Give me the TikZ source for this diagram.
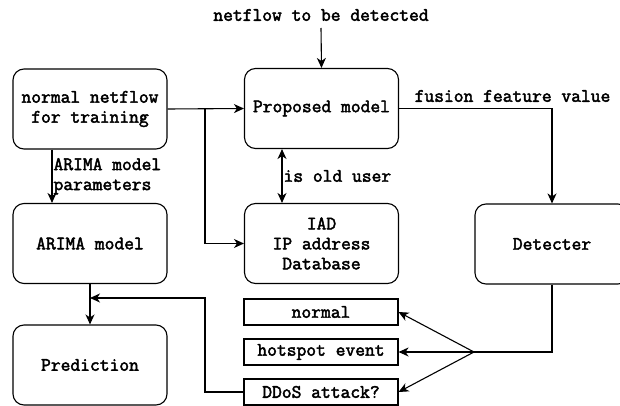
\documentclass[tikz,border=0pt]{standalone}
\usepackage{fontspec}
\setmonofont[AutoFakeBold=2.4]{Latin Modern Mono}
\usetikzlibrary{arrows.meta,positioning}
\tikzset{
  box/.style={draw, line width=1.1pt, rounded corners=11pt, minimum width=154pt, minimum height=80pt, align=center, inner sep=2pt},
  smallbox/.style={draw, line width=1.1pt, minimum width=154pt, minimum height=26pt, align=center, inner sep=1pt},
  lbl/.style={inner sep=1pt, align=left},
  arr/.style={line width=1.1pt, -{Stealth[length=10pt,width=9pt,inset=3pt]}},
  darr/.style={line width=1.1pt, {Stealth[length=10pt,width=9pt,inset=3pt]}-{Stealth[length=10pt,width=9pt,inset=3pt]}},
  ln/.style={line width=1.1pt},
}
\begin{document}
\begin{tikzpicture}[x=1pt,y=-1pt,font=\ttfamily\bfseries\fontsize{19}{20}\selectfont]
\useasboundingbox (0,0) rectangle (620,406);
\node[box] (nn) at (90,109) {normal netflow\\for training};
\node[box] (pm) at (321.5,108.5) {Proposed model};
\node[box] (arima) at (90,243.5) {ARIMA model};
\node[box] (iad) at (321.5,243.5) {IAD\\IP address\\Database};
\node[box] (det) at (552,244) {Detecter};
\node[box] (pred) at (90,365) {Prediction};
\node[smallbox] (normal) at (321,312) {normal};
\node[smallbox] (hot) at (321,352) {hotspot event};
\node[smallbox] (ddos) at (321,392) {DDoS attack?};
\node[lbl] (title) at (321,15) {netflow to be detected};
\coordinate (top) at (321,28);
\coordinate (jn) at (205,109);
\coordinate (fb) at (90,298);
\coordinate (split) at (474,352);
% connectors
\draw[arr] (top) -- (pm.north);
\draw[arr] (nn.east) -- (pm.west);
\draw[arr] (jn) |- (iad.west);
\draw[arr] ([xshift=-38pt]nn.south) -- node[lbl, anchor=west] (apl) {ARIMA model\\parameters} ([xshift=-38pt]arima.north);
\draw[arr] (arima.south) -- (pred.north);
\draw[arr] (ddos.west) -| (205,298) -- (fb);
\draw[darr] ([xshift=-39.5pt]pm.south) -- node[lbl, anchor=west] (iou) {is old user} ([xshift=-39.5pt]iad.north);
\draw[arr] (pm.east) -| (det.north);
\node[lbl] (ffv) at (512.5,96) {fusion feature value};
\draw[ln] (det.south) |- (split);
\draw[arr] (split) -- (normal.east);
\draw[arr] (split) -- (hot.east);
\draw[arr] (split) -- (ddos.east);
\end{tikzpicture}
\end{document}
